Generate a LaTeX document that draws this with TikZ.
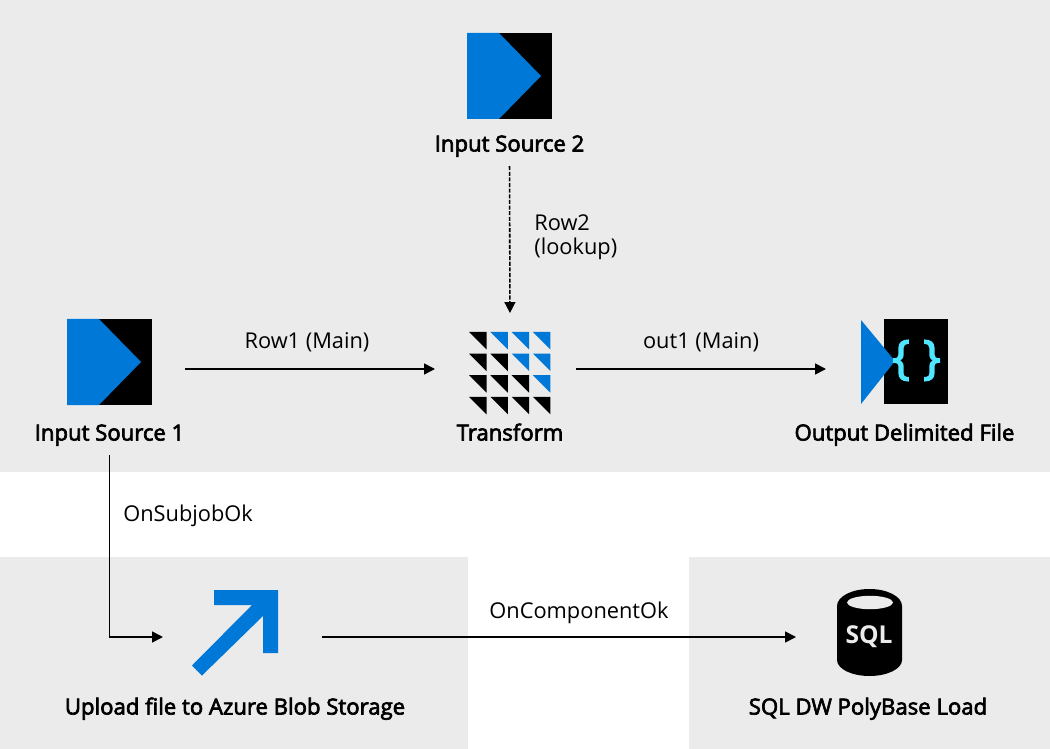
\documentclass[tikz,border=0pt]{standalone}
\usepackage{fontspec}
\setmainfont{Open Sans}
\newfontfamily\titlefont[FakeBold=3]{Open Sans}
\usepackage{xcolor}
\usetikzlibrary{arrows.meta, positioning, calc}
\definecolor{panelgray}{HTML}{EBEBEB}
\definecolor{iconblue}{HTML}{0078D7}
\definecolor{bracecyan}{HTML}{50E6FF}
\def\pxw{0.02cm}
\tikzset{
  flow/.style={draw=black, line width=0.9pt, -{Triangle[length=6.2pt,width=6.2pt]}},
  title/.style={font=\fontsize{12.6}{15}\titlefont, inner sep=0pt, anchor=base},
  edgelabel/.style={font=\fontsize{12.4}{14.5}\selectfont, inner sep=0pt, anchor=base},
  panel/.style={fill=panelgray, draw=none},
  iconbox/.style={inner sep=0pt, outer sep=0pt, minimum width=#1*\pxw},
}
% blue chevron over the black box of a source icon
\newcommand{\sourcechevron}[1]{%
  \fill[iconblue] (#1.north west) -- ++(32,0) -- ++(42,43) -- ++(-42,43) -- ++(-32,0) -- cycle;
}
\begin{document}
\begin{tikzpicture}[x=\pxw, y=-\pxw]
  \useasboundingbox (0,0) rectangle (1050,749);

  % background panels
  \fill[panel] (0,0) rectangle (1050,472);
  \fill[panel] (0,557) rectangle (468,749);
  \fill[panel] (689,557) rectangle (1050,749);

  % source icons
  \node[iconbox=85, minimum height=86*\pxw, fill=black] (sourceicon2) at (509.5,76) {};
  \node[iconbox=85, minimum height=86*\pxw, fill=black] (sourceicon1) at (109.5,362) {};
  \sourcechevron{sourceicon2}
  \sourcechevron{sourceicon1}

  % transform icon: grid of small triangles
  \node[iconbox=84, minimum height=84*\pxw] (gridicon) at (510,369) {};
  \foreach \i in {0,...,3}{
    \foreach \j in {0,...,3}{
      \pgfmathsetmacro{\cellcol}{\j>\i ? "iconblue" : "black"}
      \fill[\cellcol] (469+\j*21.3,332+\i*21.6) -- ++(17.5,0) -- ++(0,17.5) -- cycle;
    }
  }

  % output icon
  \node[iconbox=87, minimum height=70*\pxw] (outicon) at (904.5,369) {};
  \fill[black] (884,319) rectangle (948,404);
  \fill[iconblue] (861,320) -- (895,361) -- (861,404) -- cycle;
  \node[text=bracecyan, font=\fontsize{26.5}{26.5}\titlefont, inner sep=0pt] (braces) at (916.5,360.5) {\{\hspace{0.29em}\}};

  % upload arrow
  \node[iconbox=86, minimum height=78*\pxw] (uploadicon) at (235,637) {};
  \fill[iconblue] (214,590) -- (278,590) -- (278,653) -- (263,653) -- (263,616) -- (202,675.5) -- (192,665.5) -- (252,605) -- (214,605) -- cycle;

  % sql cylinder
  \node[iconbox=65, minimum height=78*\pxw] (sqlicon) at (869.5,637) {};
  \fill[black] (837,606) arc[start angle=180, end angle=360, x radius=32.5, y radius=17]
    -- (902,660) arc[start angle=0, end angle=180, x radius=32.5, y radius=16] -- cycle;
  \fill[panelgray] (870,602.5) ellipse[x radius=23, y radius=6.7];
  \node[text=panelgray, font=\fontsize{14}{14}\selectfont\bfseries, inner sep=0pt] (sql) at (869,637) {SQL};

  % titles
  \node[title] (source2) at (509.5,151.5) {Input Source 2};
  \node[title] (source1) at (109.5,440.5) {Input Source 1};
  \node[title] (transform) at (510,440.5) {Transform};
  \node[title] (output) at (904.5,440.5) {Output Delimited File};
  \node[title] (upload) at (235,714.5) {Upload file to Azure Blob Storage};
  \node[title] (polybase) at (868,714.5) {SQL DW PolyBase Load};

  % connectors
  \draw[flow, dash pattern=on 2.3pt off 0.9pt, shorten <=9*\pxw, shorten >=14*\pxw] (source2.south) -- (gridicon.north);
  \draw[flow, shorten <=33*\pxw, shorten >=33*\pxw] ([yshift=-7*\pxw]sourceicon1.east) -- (gridicon.west);
  \draw[flow, shorten <=24*\pxw, shorten >=35*\pxw] (gridicon.east) -- (outicon.west);
  \draw[flow, shorten <=9*\pxw, shorten >=29*\pxw] (source1.south) |- (uploadicon.west);
  \draw[flow, shorten <=44*\pxw, shorten >=41*\pxw] (uploadicon.east) -- (sqlicon.west);

  % labels
  \node[edgelabel, anchor=base west] (row2lab) at (534,231) {Row2};
  \node[edgelabel, anchor=base west] (lookuplab) at (534,255) {(lookup)};
  \node[edgelabel] (row1lab) at (307,349) {Row1 (Main)};
  \node[edgelabel] (out1lab) at (701,349) {out1 (Main)};
  \node[edgelabel, anchor=base west] (sublab) at (123,521) {OnSubjobOk};
  \node[edgelabel] (complab) at (579,618) {OnComponentOk};
\end{tikzpicture}
\end{document}
